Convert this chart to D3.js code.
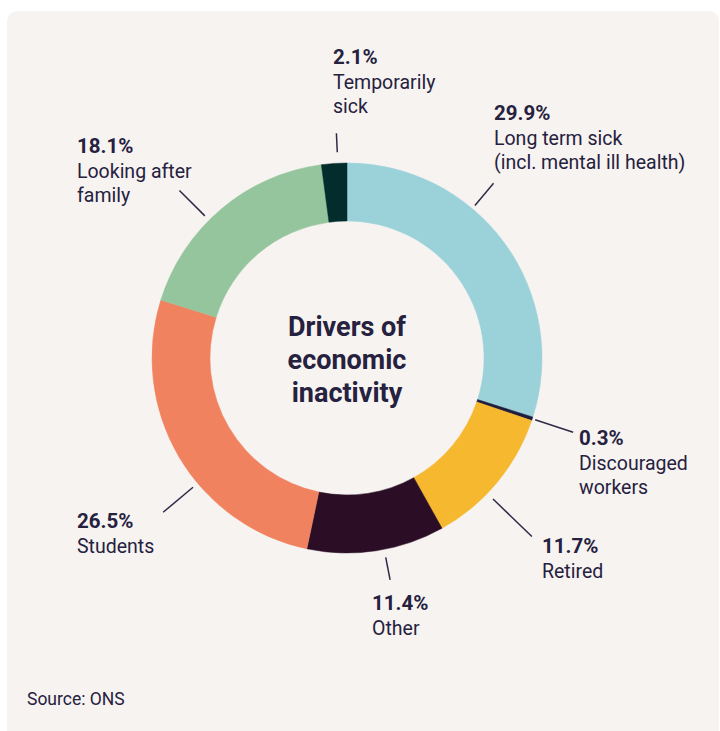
<!DOCTYPE html>
<html>
<head>
<meta charset="utf-8">
<script src="https://cdn.jsdelivr.net/npm/d3@7"></script>
<style>
	html, body { margin: 0; padding: 0; background: #ffffff; }
	svg { display: block; }
	text { font-family: Roboto, 'Noto Sans', sans-serif; fill: #25213f; }
	.pct { font-weight: 700; font-size: 20.5px; }
	.lbl { font-weight: 400; font-size: 19.5px; }
	.title { font-weight: 700; font-size: 27px; text-anchor: middle; }
	.source { font-size: 17.5px; }
</style>
</head>
<body>
<div class="view-container"></div>
<script>
'use strict';

// data, clockwise from 12 o'clock
var categories = ['Long term sick', 'Discouraged workers', 'Retired', 'Other', 'Students', 'Looking after family', 'Temporarily sick'];
var shares = [29.9, 0.3, 11.7, 11.4, 26.5, 18.1, 2.1];
var labelLines = [
	['Long term sick', '(incl. mental ill health)'],
	['Discouraged', 'workers'],
	['Retired'],
	['Other'],
	['Students'],
	['Looking after', 'family'],
	['Temporarily', 'sick']
];
var titleLines = ['Drivers of', 'economic', 'inactivity'];
var sourceText = 'Source: ONS';

var COLORS = ['#9bd2da', '#1f1d3d', '#f5b82e', '#2b0e26', '#f0825f', '#94c59c', '#032c2c'];
var INK = '#2d2a48';
var WIDTH = 720;
var HEIGHT = 731;
var CX = 347;
var CY = 358;
var INNER_R = 137;
var OUTER_R = 195;
var LINE_H = 24.5;

// label placement (first baseline) and leader line angle/radii, in the same order
var labelPos = [
	{x: 494, y: 120, angle: 40, r0: 199, r1: 228},
	{x: 579, y: 445, angle: null, r0: 198, r1: 238},
	{x: 542, y: 553, angle: 134, r0: 203, r1: 257},
	{x: 372, y: 610, angle: 169, r0: 203, r1: 226},
	{x: 77, y: 528, angle: 230, r0: 201, r1: 240},
	{x: 77, y: 153, angle: 315, r0: 201, r1: 237},
	{x: 333, y: 64, angle: -2.7, r0: 206, r1: 225}
];

var fmt = d3.format('.1f');

var svg = d3.select('.view-container').append('svg')
	.attr('width', WIDTH)
	.attr('height', HEIGHT);

svg.append('rect')
	.attr('x', 7)
	.attr('y', 11)
	.attr('width', 712)
	.attr('height', 740)
	.attr('rx', 10)
	.style('fill', '#f7f3f0');

var pie = d3.pie().sort(null).value(function(d) { return d; });
var arc = d3.arc().innerRadius(INNER_R).outerRadius(OUTER_R);
var slices = pie(shares);

var g = svg.append('g')
	.attr('transform', 'translate(' + CX + ',' + CY + ')');

g.selectAll('path.slice')
	.data(slices)
	.enter().append('path')
	.attr('class', 'slice')
	.attr('d', arc)
	.style('fill', function(d, i) { return COLORS[i]; })
	.style('stroke', function(d, i) { return COLORS[i]; })
	.style('stroke-width', 0.5);

function polar(angleDeg, r) {
	var a = angleDeg * Math.PI / 180;
	return [Math.sin(a) * r, -Math.cos(a) * r];
}

// leader lines
g.selectAll('line.leader')
	.data(slices)
	.enter().append('line')
	.attr('class', 'leader')
	.each(function(d, i) {
		var p = labelPos[i];
		var ang = p.angle === null ? (d.startAngle + d.endAngle) / 2 * 180 / Math.PI : p.angle;
		var a = polar(ang, p.r0);
		var b = polar(ang, p.r1);
		d3.select(this)
			.attr('x1', a[0]).attr('y1', a[1])
			.attr('x2', b[0]).attr('y2', b[1]);
	})
	.style('stroke', INK)
	.style('stroke-width', 1.5);

// labels
var labels = svg.selectAll('text.label')
	.data(slices)
	.enter().append('text')
	.attr('class', 'label');

labels.each(function(d, i) {
	var t = d3.select(this);
	var p = labelPos[i];
	t.append('tspan')
		.attr('class', 'pct')
		.attr('x', p.x)
		.attr('y', p.y)
		.text(fmt(d.data) + '%');
	labelLines[i].forEach(function(line, j) {
		t.append('tspan')
			.attr('class', 'lbl')
			.attr('x', p.x)
			.attr('y', p.y + LINE_H * (j + 1))
			.text(line);
	});
});

// centre title
svg.append('text')
	.attr('class', 'title')
	.selectAll('tspan')
	.data(titleLines)
	.enter().append('tspan')
	.attr('x', CX)
	.attr('y', function(d, i) { return 336 + i * 33; })
	.text(function(d) { return d; });

svg.append('text')
	.attr('class', 'source')
	.attr('x', 27)
	.attr('y', 705)
	.text(sourceText);
</script>
</body>
</html>
